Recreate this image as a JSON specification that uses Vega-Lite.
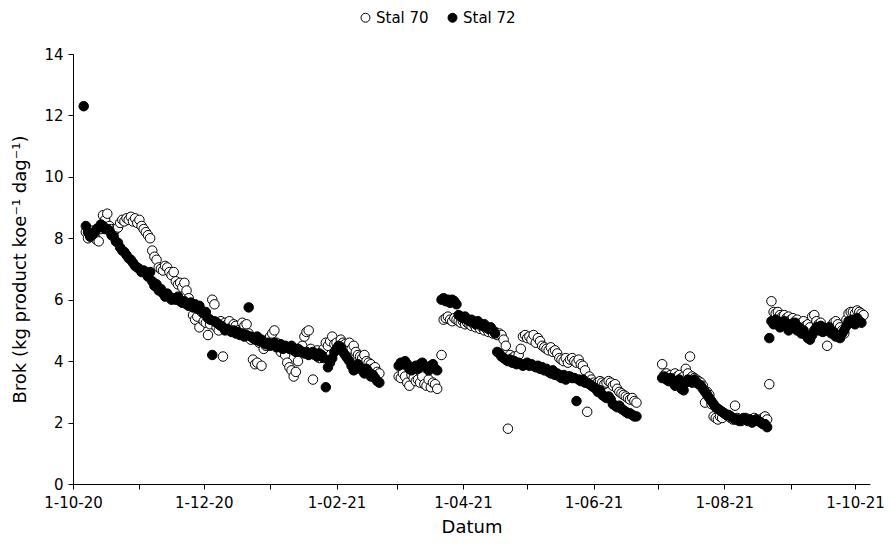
{
  "$schema": "https://vega.github.io/schema/vega-lite/v6.json",
  "width": 797,
  "height": 430,
  "autosize": {"type": "none"},
  "padding": {"left": 73, "top": 54, "right": 21, "bottom": 61},
  "background": "white",
  "config": {
    "view": {"stroke": null},
    "font": "DejaVu Sans",
    "axis": {
      "domainColor": "black",
      "tickColor": "black",
      "labelColor": "black",
      "titleColor": "black",
      "labelFont": "DejaVu Sans",
      "titleFont": "DejaVu Sans",
      "labelFontSize": 15,
      "titleFontSize": 18,
      "titleFontWeight": "normal",
      "grid": false,
      "tickSize": 5
    }
  },
  "data": {
    "values": [
      {"Datum": "2020-10-06", "Stal 72": 12.3},
      {"Datum": "2020-10-07", "Stal 70": 8.2, "Stal 72": 8.4},
      {"Datum": "2020-10-08", "Stal 70": 8.0, "Stal 72": 8.2},
      {"Datum": "2020-10-09", "Stal 70": 8.1, "Stal 72": 8.05},
      {"Datum": "2020-10-10", "Stal 70": 8.25, "Stal 72": 8.1},
      {"Datum": "2020-10-11", "Stal 70": 8.1, "Stal 72": 8.2},
      {"Datum": "2020-10-12", "Stal 70": 7.95, "Stal 72": 8.3},
      {"Datum": "2020-10-13", "Stal 70": 7.9, "Stal 72": 8.35},
      {"Datum": "2020-10-14", "Stal 70": 8.3, "Stal 72": 8.45},
      {"Datum": "2020-10-15", "Stal 70": 8.75, "Stal 72": 8.4},
      {"Datum": "2020-10-16", "Stal 70": 8.6, "Stal 72": 8.3},
      {"Datum": "2020-10-17", "Stal 70": 8.8, "Stal 72": 8.3},
      {"Datum": "2020-10-18", "Stal 70": 8.4, "Stal 72": 8.25},
      {"Datum": "2020-10-19", "Stal 70": 8.3, "Stal 72": 8.1},
      {"Datum": "2020-10-20", "Stal 70": 8.2, "Stal 72": 8.05},
      {"Datum": "2020-10-21", "Stal 70": 8.3, "Stal 72": 7.9},
      {"Datum": "2020-10-22", "Stal 70": 8.35, "Stal 72": 7.85},
      {"Datum": "2020-10-23", "Stal 70": 8.5, "Stal 72": 7.7},
      {"Datum": "2020-10-24", "Stal 70": 8.6, "Stal 72": 7.6},
      {"Datum": "2020-10-25", "Stal 70": 8.55, "Stal 72": 7.55},
      {"Datum": "2020-10-26", "Stal 70": 8.65, "Stal 72": 7.45},
      {"Datum": "2020-10-27", "Stal 70": 8.6, "Stal 72": 7.35},
      {"Datum": "2020-10-28", "Stal 70": 8.7, "Stal 72": 7.3},
      {"Datum": "2020-10-29", "Stal 70": 8.55, "Stal 72": 7.2},
      {"Datum": "2020-10-30", "Stal 70": 8.65, "Stal 72": 7.1},
      {"Datum": "2020-10-31", "Stal 70": 8.5, "Stal 72": 7.05},
      {"Datum": "2020-11-01", "Stal 70": 8.6, "Stal 72": 7.0},
      {"Datum": "2020-11-02", "Stal 70": 8.4, "Stal 72": 6.9},
      {"Datum": "2020-11-03", "Stal 70": 8.3, "Stal 72": 6.95},
      {"Datum": "2020-11-04", "Stal 70": 8.2, "Stal 72": 6.85},
      {"Datum": "2020-11-05", "Stal 70": 8.1, "Stal 72": 6.75},
      {"Datum": "2020-11-06", "Stal 70": 8.0, "Stal 72": 6.9},
      {"Datum": "2020-11-07", "Stal 70": 7.6, "Stal 72": 6.6},
      {"Datum": "2020-11-08", "Stal 70": 7.4, "Stal 72": 6.45},
      {"Datum": "2020-11-09", "Stal 70": 7.3, "Stal 72": 6.5},
      {"Datum": "2020-11-10", "Stal 70": 7.05, "Stal 72": 6.3},
      {"Datum": "2020-11-11", "Stal 70": 7.0, "Stal 72": 6.35},
      {"Datum": "2020-11-12", "Stal 70": 6.95, "Stal 72": 6.2},
      {"Datum": "2020-11-13", "Stal 70": 7.1, "Stal 72": 6.1},
      {"Datum": "2020-11-14", "Stal 70": 7.05, "Stal 72": 6.2},
      {"Datum": "2020-11-15", "Stal 70": 6.9, "Stal 72": 6.1},
      {"Datum": "2020-11-16", "Stal 70": 6.8, "Stal 72": 6.0},
      {"Datum": "2020-11-17", "Stal 70": 6.9, "Stal 72": 6.05},
      {"Datum": "2020-11-18", "Stal 70": 6.6, "Stal 72": 6.0},
      {"Datum": "2020-11-19", "Stal 70": 6.5, "Stal 72": 6.1},
      {"Datum": "2020-11-20", "Stal 70": 6.55, "Stal 72": 5.95},
      {"Datum": "2020-11-21", "Stal 70": 6.4, "Stal 72": 5.9},
      {"Datum": "2020-11-22", "Stal 70": 6.55, "Stal 72": 5.95},
      {"Datum": "2020-11-23", "Stal 70": 6.3, "Stal 72": 5.85},
      {"Datum": "2020-11-24", "Stal 70": 6.05, "Stal 72": 5.8},
      {"Datum": "2020-11-25", "Stal 70": 5.9, "Stal 72": 5.9},
      {"Datum": "2020-11-26", "Stal 70": 5.5, "Stal 72": 5.75},
      {"Datum": "2020-11-27", "Stal 70": 5.35, "Stal 72": 5.85},
      {"Datum": "2020-11-28", "Stal 70": 5.45, "Stal 72": 5.7},
      {"Datum": "2020-11-29", "Stal 70": 5.1, "Stal 72": 5.8},
      {"Datum": "2020-11-30", "Stal 70": 5.6, "Stal 72": 5.65},
      {"Datum": "2020-12-01", "Stal 70": 5.3, "Stal 72": 5.55},
      {"Datum": "2020-12-02", "Stal 70": 5.25, "Stal 72": 5.6},
      {"Datum": "2020-12-03", "Stal 70": 4.85, "Stal 72": 5.4},
      {"Datum": "2020-12-04", "Stal 70": 5.2, "Stal 72": 5.35},
      {"Datum": "2020-12-05", "Stal 70": 6.0, "Stal 72": 4.2},
      {"Datum": "2020-12-06", "Stal 70": 5.85, "Stal 72": 5.3},
      {"Datum": "2020-12-07", "Stal 70": 5.1, "Stal 72": 5.25},
      {"Datum": "2020-12-08", "Stal 70": 5.0, "Stal 72": 5.2},
      {"Datum": "2020-12-09", "Stal 70": 5.3, "Stal 72": 5.15},
      {"Datum": "2020-12-10", "Stal 70": 4.15, "Stal 72": 5.1},
      {"Datum": "2020-12-11", "Stal 70": 5.25, "Stal 72": 5.0},
      {"Datum": "2020-12-12", "Stal 70": 5.2, "Stal 72": 5.05},
      {"Datum": "2020-12-13", "Stal 70": 5.3, "Stal 72": 5.0},
      {"Datum": "2020-12-14", "Stal 70": 5.1, "Stal 72": 4.95},
      {"Datum": "2020-12-15", "Stal 70": 5.2, "Stal 72": 5.0},
      {"Datum": "2020-12-16", "Stal 70": 5.15, "Stal 72": 4.9},
      {"Datum": "2020-12-17", "Stal 70": 5.0, "Stal 72": 4.95},
      {"Datum": "2020-12-18", "Stal 70": 4.9, "Stal 72": 4.85},
      {"Datum": "2020-12-19", "Stal 70": 5.25, "Stal 72": 4.9},
      {"Datum": "2020-12-20", "Stal 70": 5.15, "Stal 72": 4.8},
      {"Datum": "2020-12-21", "Stal 70": 5.2, "Stal 72": 4.85},
      {"Datum": "2020-12-22", "Stal 70": 4.9, "Stal 72": 5.75},
      {"Datum": "2020-12-23", "Stal 70": 4.7, "Stal 72": 4.8},
      {"Datum": "2020-12-24", "Stal 70": 4.05, "Stal 72": 4.75},
      {"Datum": "2020-12-25", "Stal 70": 3.9, "Stal 72": 4.7},
      {"Datum": "2020-12-26", "Stal 70": 3.95, "Stal 72": 4.8},
      {"Datum": "2020-12-27", "Stal 70": 4.6, "Stal 72": 4.65},
      {"Datum": "2020-12-28", "Stal 70": 3.85, "Stal 72": 4.7},
      {"Datum": "2020-12-29", "Stal 70": 4.4, "Stal 72": 4.6},
      {"Datum": "2020-12-30", "Stal 70": 4.5, "Stal 72": 4.55},
      {"Datum": "2020-12-31", "Stal 70": 4.7, "Stal 72": 4.6},
      {"Datum": "2021-01-01", "Stal 70": 4.8, "Stal 72": 4.5},
      {"Datum": "2021-01-02", "Stal 70": 4.9, "Stal 72": 4.55},
      {"Datum": "2021-01-03", "Stal 70": 5.0, "Stal 72": 4.6},
      {"Datum": "2021-01-04", "Stal 70": 4.6, "Stal 72": 4.45},
      {"Datum": "2021-01-05", "Stal 70": 4.5, "Stal 72": 4.5},
      {"Datum": "2021-01-06", "Stal 70": 4.3, "Stal 72": 4.55},
      {"Datum": "2021-01-07", "Stal 70": 4.4, "Stal 72": 4.4},
      {"Datum": "2021-01-08", "Stal 70": 4.2, "Stal 72": 4.5},
      {"Datum": "2021-01-09", "Stal 70": 3.95, "Stal 72": 4.45},
      {"Datum": "2021-01-10", "Stal 70": 3.8, "Stal 72": 4.4},
      {"Datum": "2021-01-11", "Stal 70": 3.7, "Stal 72": 4.5},
      {"Datum": "2021-01-12", "Stal 70": 3.5, "Stal 72": 4.35},
      {"Datum": "2021-01-13", "Stal 70": 3.65, "Stal 72": 4.3},
      {"Datum": "2021-01-14", "Stal 70": 4.0, "Stal 72": 4.4},
      {"Datum": "2021-01-15", "Stal 70": 4.3, "Stal 72": 4.35},
      {"Datum": "2021-01-16", "Stal 70": 4.5, "Stal 72": 4.3},
      {"Datum": "2021-01-17", "Stal 70": 4.8, "Stal 72": 4.25},
      {"Datum": "2021-01-18", "Stal 70": 4.95, "Stal 72": 4.3},
      {"Datum": "2021-01-19", "Stal 70": 5.0, "Stal 72": 4.2},
      {"Datum": "2021-01-20", "Stal 70": 4.4, "Stal 72": 4.25},
      {"Datum": "2021-01-21", "Stal 70": 3.4, "Stal 72": 4.3},
      {"Datum": "2021-01-22", "Stal 70": 4.2, "Stal 72": 4.2},
      {"Datum": "2021-01-23", "Stal 70": 4.35, "Stal 72": 4.15},
      {"Datum": "2021-01-24", "Stal 70": 4.1, "Stal 72": 4.25},
      {"Datum": "2021-01-25", "Stal 70": 4.3, "Stal 72": 4.2},
      {"Datum": "2021-01-26", "Stal 70": 4.4, "Stal 72": 4.1},
      {"Datum": "2021-01-27", "Stal 70": 4.6, "Stal 72": 3.15},
      {"Datum": "2021-01-28", "Stal 70": 4.5, "Stal 72": 3.8},
      {"Datum": "2021-01-29", "Stal 70": 4.65, "Stal 72": 3.95},
      {"Datum": "2021-01-30", "Stal 70": 4.8, "Stal 72": 4.1},
      {"Datum": "2021-01-31", "Stal 70": 4.55, "Stal 72": 4.3},
      {"Datum": "2021-02-01", "Stal 70": 4.6, "Stal 72": 4.4},
      {"Datum": "2021-02-02", "Stal 70": 4.5, "Stal 72": 4.5},
      {"Datum": "2021-02-03", "Stal 70": 4.7, "Stal 72": 4.45},
      {"Datum": "2021-02-04", "Stal 70": 4.6, "Stal 72": 4.3},
      {"Datum": "2021-02-05", "Stal 70": 4.55, "Stal 72": 4.2},
      {"Datum": "2021-02-06", "Stal 70": 4.5, "Stal 72": 4.1},
      {"Datum": "2021-02-07", "Stal 70": 4.6, "Stal 72": 4.0},
      {"Datum": "2021-02-08", "Stal 70": 4.4, "Stal 72": 3.85},
      {"Datum": "2021-02-09", "Stal 70": 4.5, "Stal 72": 3.7},
      {"Datum": "2021-02-10", "Stal 70": 4.3, "Stal 72": 3.75},
      {"Datum": "2021-02-11", "Stal 70": 4.2, "Stal 72": 3.9},
      {"Datum": "2021-02-12", "Stal 70": 4.15, "Stal 72": 3.8},
      {"Datum": "2021-02-13", "Stal 70": 4.1, "Stal 72": 3.7},
      {"Datum": "2021-02-14", "Stal 70": 4.2, "Stal 72": 3.6},
      {"Datum": "2021-02-15", "Stal 70": 4.0, "Stal 72": 3.75},
      {"Datum": "2021-02-16", "Stal 70": 3.95, "Stal 72": 3.65},
      {"Datum": "2021-02-17", "Stal 70": 3.9, "Stal 72": 3.5},
      {"Datum": "2021-02-18", "Stal 70": 3.75, "Stal 72": 3.55},
      {"Datum": "2021-02-19", "Stal 70": 3.8, "Stal 72": 3.45},
      {"Datum": "2021-02-20", "Stal 70": 3.65, "Stal 72": 3.35},
      {"Datum": "2021-02-21", "Stal 70": 3.6, "Stal 72": 3.3},
      {"Datum": "2021-03-02", "Stal 70": 3.5, "Stal 72": 3.85},
      {"Datum": "2021-03-03", "Stal 70": 3.45, "Stal 72": 3.95},
      {"Datum": "2021-03-04", "Stal 70": 3.6, "Stal 72": 3.9},
      {"Datum": "2021-03-05", "Stal 70": 3.5, "Stal 72": 4.0},
      {"Datum": "2021-03-06", "Stal 70": 3.3, "Stal 72": 3.9},
      {"Datum": "2021-03-07", "Stal 70": 3.2, "Stal 72": 3.75},
      {"Datum": "2021-03-08", "Stal 70": 3.55, "Stal 72": 3.7},
      {"Datum": "2021-03-09", "Stal 70": 3.45, "Stal 72": 3.8},
      {"Datum": "2021-03-10", "Stal 70": 3.35, "Stal 72": 3.85},
      {"Datum": "2021-03-11", "Stal 70": 3.4, "Stal 72": 3.75},
      {"Datum": "2021-03-12", "Stal 70": 3.3, "Stal 72": 3.9},
      {"Datum": "2021-03-13", "Stal 70": 3.5, "Stal 72": 3.95},
      {"Datum": "2021-03-14", "Stal 70": 3.25, "Stal 72": 3.85},
      {"Datum": "2021-03-15", "Stal 70": 3.2, "Stal 72": 3.8},
      {"Datum": "2021-03-16", "Stal 70": 3.4, "Stal 72": 3.7},
      {"Datum": "2021-03-17", "Stal 70": 3.15, "Stal 72": 3.85},
      {"Datum": "2021-03-18", "Stal 70": 3.3, "Stal 72": 3.9},
      {"Datum": "2021-03-19", "Stal 70": 3.25, "Stal 72": 3.75},
      {"Datum": "2021-03-20", "Stal 70": 3.1, "Stal 72": 3.7},
      {"Datum": "2021-03-22", "Stal 70": 4.2, "Stal 72": 6.0},
      {"Datum": "2021-03-23", "Stal 70": 5.35, "Stal 72": 6.05},
      {"Datum": "2021-03-24", "Stal 70": 5.4, "Stal 72": 5.95},
      {"Datum": "2021-03-25", "Stal 70": 5.45, "Stal 72": 6.0},
      {"Datum": "2021-03-26", "Stal 70": 5.35, "Stal 72": 5.9},
      {"Datum": "2021-03-27", "Stal 70": 5.3, "Stal 72": 6.0},
      {"Datum": "2021-03-28", "Stal 70": 5.4, "Stal 72": 5.95},
      {"Datum": "2021-03-29", "Stal 70": 5.35, "Stal 72": 5.85},
      {"Datum": "2021-03-30", "Stal 70": 5.3, "Stal 72": 5.5},
      {"Datum": "2021-03-31", "Stal 70": 5.25, "Stal 72": 5.45},
      {"Datum": "2021-04-01", "Stal 70": 5.3, "Stal 72": 5.4},
      {"Datum": "2021-04-02", "Stal 70": 5.2, "Stal 72": 5.45},
      {"Datum": "2021-04-03", "Stal 70": 5.25, "Stal 72": 5.35},
      {"Datum": "2021-04-04", "Stal 70": 5.2, "Stal 72": 5.3},
      {"Datum": "2021-04-05", "Stal 70": 5.15, "Stal 72": 5.35},
      {"Datum": "2021-04-06", "Stal 70": 5.2, "Stal 72": 5.25},
      {"Datum": "2021-04-07", "Stal 70": 5.1, "Stal 72": 5.2},
      {"Datum": "2021-04-08", "Stal 70": 5.15, "Stal 72": 5.3},
      {"Datum": "2021-04-09", "Stal 70": 5.05, "Stal 72": 5.2},
      {"Datum": "2021-04-10", "Stal 70": 5.1, "Stal 72": 5.15},
      {"Datum": "2021-04-11", "Stal 70": 5.0, "Stal 72": 5.2},
      {"Datum": "2021-04-12", "Stal 70": 5.05, "Stal 72": 5.1},
      {"Datum": "2021-04-13", "Stal 70": 4.95, "Stal 72": 5.05},
      {"Datum": "2021-04-14", "Stal 70": 5.0, "Stal 72": 5.1},
      {"Datum": "2021-04-15", "Stal 70": 4.9, "Stal 72": 5.0},
      {"Datum": "2021-04-16", "Stal 70": 4.95, "Stal 72": 4.9},
      {"Datum": "2021-04-17", "Stal 70": 4.85, "Stal 72": 4.3},
      {"Datum": "2021-04-18", "Stal 70": 4.9, "Stal 72": 4.25},
      {"Datum": "2021-04-19", "Stal 70": 4.85, "Stal 72": 4.15},
      {"Datum": "2021-04-20", "Stal 70": 4.7, "Stal 72": 4.1},
      {"Datum": "2021-04-21", "Stal 70": 4.5, "Stal 72": 4.05},
      {"Datum": "2021-04-22", "Stal 70": 1.8, "Stal 72": 4.0},
      {"Datum": "2021-04-23", "Stal 70": 4.2, "Stal 72": 4.05},
      {"Datum": "2021-04-24", "Stal 70": 4.1, "Stal 72": 3.95},
      {"Datum": "2021-04-25", "Stal 70": 4.15, "Stal 72": 4.0},
      {"Datum": "2021-04-26", "Stal 70": 4.05, "Stal 72": 3.9},
      {"Datum": "2021-04-27", "Stal 70": 4.2, "Stal 72": 3.95},
      {"Datum": "2021-04-28", "Stal 70": 4.4, "Stal 72": 3.9},
      {"Datum": "2021-04-29", "Stal 70": 4.8, "Stal 72": 3.85},
      {"Datum": "2021-04-30", "Stal 70": 4.85, "Stal 72": 3.9},
      {"Datum": "2021-05-01", "Stal 70": 4.75, "Stal 72": 3.95},
      {"Datum": "2021-05-02", "Stal 70": 4.8, "Stal 72": 3.85},
      {"Datum": "2021-05-03", "Stal 70": 4.7, "Stal 72": 3.9},
      {"Datum": "2021-05-04", "Stal 70": 4.85, "Stal 72": 3.85},
      {"Datum": "2021-05-05", "Stal 70": 4.6, "Stal 72": 3.8},
      {"Datum": "2021-05-06", "Stal 70": 4.75, "Stal 72": 3.85},
      {"Datum": "2021-05-07", "Stal 70": 4.65, "Stal 72": 3.75},
      {"Datum": "2021-05-08", "Stal 70": 4.5, "Stal 72": 3.8},
      {"Datum": "2021-05-09", "Stal 70": 4.45, "Stal 72": 3.7},
      {"Datum": "2021-05-10", "Stal 70": 4.4, "Stal 72": 3.75},
      {"Datum": "2021-05-11", "Stal 70": 4.35, "Stal 72": 3.65},
      {"Datum": "2021-05-12", "Stal 70": 4.45, "Stal 72": 3.6},
      {"Datum": "2021-05-13", "Stal 70": 4.3, "Stal 72": 3.7},
      {"Datum": "2021-05-14", "Stal 70": 4.35, "Stal 72": 3.55},
      {"Datum": "2021-05-15", "Stal 70": 4.25, "Stal 72": 3.6},
      {"Datum": "2021-05-16", "Stal 70": 4.1, "Stal 72": 3.5},
      {"Datum": "2021-05-17", "Stal 70": 4.05, "Stal 72": 3.45},
      {"Datum": "2021-05-18", "Stal 70": 4.0, "Stal 72": 3.55},
      {"Datum": "2021-05-19", "Stal 70": 4.1, "Stal 72": 3.4},
      {"Datum": "2021-05-20", "Stal 70": 3.95, "Stal 72": 3.5},
      {"Datum": "2021-05-21", "Stal 70": 4.05, "Stal 72": 3.5},
      {"Datum": "2021-05-22", "Stal 70": 4.1, "Stal 72": 3.45},
      {"Datum": "2021-05-23", "Stal 70": 4.0, "Stal 72": 3.45},
      {"Datum": "2021-05-24", "Stal 70": 3.95, "Stal 72": 2.7},
      {"Datum": "2021-05-25", "Stal 70": 4.05, "Stal 72": 3.4},
      {"Datum": "2021-05-26", "Stal 70": 3.9, "Stal 72": 3.35},
      {"Datum": "2021-05-27", "Stal 70": 3.85, "Stal 72": 3.4},
      {"Datum": "2021-05-28", "Stal 70": 3.7, "Stal 72": 3.3},
      {"Datum": "2021-05-29", "Stal 70": 2.35, "Stal 72": 3.3},
      {"Datum": "2021-05-30", "Stal 70": 3.5, "Stal 72": 3.25},
      {"Datum": "2021-05-31", "Stal 70": 3.4, "Stal 72": 3.2},
      {"Datum": "2021-06-01", "Stal 70": 3.3, "Stal 72": 3.15},
      {"Datum": "2021-06-02", "Stal 70": 3.25, "Stal 72": 3.1},
      {"Datum": "2021-06-03", "Stal 70": 3.3, "Stal 72": 3.0},
      {"Datum": "2021-06-04", "Stal 70": 3.35, "Stal 72": 3.05},
      {"Datum": "2021-06-05", "Stal 70": 3.3, "Stal 72": 2.9},
      {"Datum": "2021-06-06", "Stal 70": 3.25, "Stal 72": 2.85},
      {"Datum": "2021-06-07", "Stal 70": 3.3, "Stal 72": 2.8},
      {"Datum": "2021-06-08", "Stal 70": 3.35, "Stal 72": 2.85},
      {"Datum": "2021-06-09", "Stal 70": 3.3, "Stal 72": 2.75},
      {"Datum": "2021-06-10", "Stal 70": 3.2, "Stal 72": 2.6},
      {"Datum": "2021-06-11", "Stal 70": 3.25, "Stal 72": 2.55},
      {"Datum": "2021-06-12", "Stal 70": 3.1, "Stal 72": 2.5},
      {"Datum": "2021-06-13", "Stal 70": 3.0, "Stal 72": 2.55},
      {"Datum": "2021-06-14", "Stal 70": 2.95, "Stal 72": 2.45},
      {"Datum": "2021-06-15", "Stal 70": 2.9, "Stal 72": 2.4},
      {"Datum": "2021-06-16", "Stal 70": 2.85, "Stal 72": 2.35},
      {"Datum": "2021-06-17", "Stal 70": 2.8, "Stal 72": 2.3},
      {"Datum": "2021-06-18", "Stal 70": 2.75, "Stal 72": 2.3},
      {"Datum": "2021-06-19", "Stal 70": 2.8, "Stal 72": 2.25},
      {"Datum": "2021-06-20", "Stal 70": 2.7, "Stal 72": 2.2},
      {"Datum": "2021-06-21", "Stal 70": 2.65, "Stal 72": 2.2},
      {"Datum": "2021-07-03", "Stal 70": 3.9, "Stal 72": 3.45},
      {"Datum": "2021-07-04", "Stal 70": 3.55, "Stal 72": 3.5},
      {"Datum": "2021-07-05", "Stal 70": 3.6, "Stal 72": 3.4},
      {"Datum": "2021-07-06", "Stal 70": 3.5, "Stal 72": 3.35},
      {"Datum": "2021-07-07", "Stal 70": 3.55, "Stal 72": 3.45},
      {"Datum": "2021-07-08", "Stal 70": 3.45, "Stal 72": 3.3},
      {"Datum": "2021-07-09", "Stal 70": 3.6, "Stal 72": 3.2},
      {"Datum": "2021-07-10", "Stal 70": 3.5, "Stal 72": 3.35},
      {"Datum": "2021-07-11", "Stal 70": 3.55, "Stal 72": 3.4},
      {"Datum": "2021-07-12", "Stal 70": 3.45, "Stal 72": 3.1},
      {"Datum": "2021-07-13", "Stal 70": 3.5, "Stal 72": 3.05},
      {"Datum": "2021-07-14", "Stal 70": 3.75, "Stal 72": 3.3},
      {"Datum": "2021-07-15", "Stal 70": 3.6, "Stal 72": 3.4},
      {"Datum": "2021-07-16", "Stal 70": 4.15, "Stal 72": 3.35},
      {"Datum": "2021-07-17", "Stal 70": 3.5, "Stal 72": 3.3},
      {"Datum": "2021-07-18", "Stal 70": 3.45, "Stal 72": 3.4},
      {"Datum": "2021-07-19", "Stal 70": 3.4, "Stal 72": 3.3},
      {"Datum": "2021-07-20", "Stal 70": 3.35, "Stal 72": 3.25},
      {"Datum": "2021-07-21", "Stal 70": 3.3, "Stal 72": 3.2},
      {"Datum": "2021-07-22", "Stal 70": 3.2, "Stal 72": 3.1},
      {"Datum": "2021-07-23", "Stal 70": 2.65, "Stal 72": 3.0},
      {"Datum": "2021-07-24", "Stal 70": 3.0, "Stal 72": 2.9},
      {"Datum": "2021-07-25", "Stal 70": 2.9, "Stal 72": 2.8},
      {"Datum": "2021-07-26", "Stal 70": 2.6, "Stal 72": 2.7},
      {"Datum": "2021-07-27", "Stal 70": 2.2, "Stal 72": 2.6},
      {"Datum": "2021-07-28", "Stal 70": 2.15, "Stal 72": 2.5},
      {"Datum": "2021-07-29", "Stal 70": 2.1, "Stal 72": 2.45},
      {"Datum": "2021-07-30", "Stal 70": 2.2, "Stal 72": 2.4},
      {"Datum": "2021-07-31", "Stal 70": 2.15, "Stal 72": 2.35},
      {"Datum": "2021-08-01", "Stal 70": 2.3, "Stal 72": 2.3},
      {"Datum": "2021-08-02", "Stal 70": 2.25, "Stal 72": 2.25},
      {"Datum": "2021-08-03", "Stal 70": 2.2, "Stal 72": 2.25},
      {"Datum": "2021-08-04", "Stal 70": 2.15, "Stal 72": 2.2},
      {"Datum": "2021-08-05", "Stal 70": 2.1, "Stal 72": 2.15},
      {"Datum": "2021-08-06", "Stal 70": 2.55, "Stal 72": 2.1},
      {"Datum": "2021-08-07", "Stal 70": 2.15, "Stal 72": 2.1},
      {"Datum": "2021-08-08", "Stal 70": 2.1, "Stal 72": 2.05},
      {"Datum": "2021-08-09", "Stal 70": 2.05, "Stal 72": 2.1},
      {"Datum": "2021-08-10", "Stal 70": 2.1, "Stal 72": 2.15},
      {"Datum": "2021-08-11", "Stal 70": 2.15, "Stal 72": 2.1},
      {"Datum": "2021-08-12", "Stal 70": 2.1, "Stal 72": 2.05},
      {"Datum": "2021-08-13", "Stal 70": 2.05, "Stal 72": 2.1},
      {"Datum": "2021-08-14", "Stal 70": 2.1, "Stal 72": 2.0},
      {"Datum": "2021-08-15", "Stal 70": 2.15, "Stal 72": 2.05},
      {"Datum": "2021-08-16", "Stal 70": 2.1, "Stal 72": 2.1},
      {"Datum": "2021-08-17", "Stal 70": 2.05, "Stal 72": 2.05},
      {"Datum": "2021-08-18", "Stal 70": 2.1, "Stal 72": 2.0},
      {"Datum": "2021-08-19", "Stal 70": 2.15, "Stal 72": 1.95},
      {"Datum": "2021-08-20", "Stal 70": 2.2, "Stal 72": 1.95},
      {"Datum": "2021-08-21", "Stal 70": 2.1, "Stal 72": 1.85},
      {"Datum": "2021-08-22", "Stal 70": 3.25, "Stal 72": 4.75},
      {"Datum": "2021-08-23", "Stal 70": 5.95, "Stal 72": 5.3},
      {"Datum": "2021-08-24", "Stal 70": 5.6, "Stal 72": 5.2},
      {"Datum": "2021-08-25", "Stal 70": 5.55, "Stal 72": 5.35},
      {"Datum": "2021-08-26", "Stal 70": 5.6, "Stal 72": 5.25},
      {"Datum": "2021-08-27", "Stal 70": 5.5, "Stal 72": 5.1},
      {"Datum": "2021-08-28", "Stal 70": 5.45, "Stal 72": 5.2},
      {"Datum": "2021-08-29", "Stal 70": 5.5, "Stal 72": 5.3},
      {"Datum": "2021-08-30", "Stal 70": 5.4, "Stal 72": 5.15},
      {"Datum": "2021-08-31", "Stal 70": 5.45, "Stal 72": 5.0},
      {"Datum": "2021-09-01", "Stal 70": 5.35, "Stal 72": 5.2},
      {"Datum": "2021-09-02", "Stal 70": 5.4, "Stal 72": 5.1},
      {"Datum": "2021-09-03", "Stal 70": 5.3, "Stal 72": 5.25},
      {"Datum": "2021-09-04", "Stal 70": 5.35, "Stal 72": 5.0},
      {"Datum": "2021-09-05", "Stal 70": 5.2, "Stal 72": 5.1},
      {"Datum": "2021-09-06", "Stal 70": 5.25, "Stal 72": 4.9},
      {"Datum": "2021-09-07", "Stal 70": 5.3, "Stal 72": 5.0},
      {"Datum": "2021-09-08", "Stal 70": 5.15, "Stal 72": 4.85},
      {"Datum": "2021-09-09", "Stal 70": 5.2, "Stal 72": 4.75},
      {"Datum": "2021-09-10", "Stal 70": 5.1, "Stal 72": 4.7},
      {"Datum": "2021-09-11", "Stal 70": 5.45, "Stal 72": 4.85},
      {"Datum": "2021-09-12", "Stal 70": 5.5, "Stal 72": 5.0},
      {"Datum": "2021-09-13", "Stal 70": 5.3, "Stal 72": 5.1},
      {"Datum": "2021-09-14", "Stal 70": 5.2, "Stal 72": 5.0},
      {"Datum": "2021-09-15", "Stal 70": 5.25, "Stal 72": 5.15},
      {"Datum": "2021-09-16", "Stal 70": 5.1, "Stal 72": 4.95},
      {"Datum": "2021-09-17", "Stal 70": 5.0, "Stal 72": 5.05},
      {"Datum": "2021-09-18", "Stal 70": 4.5, "Stal 72": 5.0},
      {"Datum": "2021-09-19", "Stal 70": 5.05, "Stal 72": 5.1},
      {"Datum": "2021-09-20", "Stal 70": 5.15, "Stal 72": 4.9},
      {"Datum": "2021-09-21", "Stal 70": 5.25, "Stal 72": 4.95},
      {"Datum": "2021-09-22", "Stal 70": 5.3, "Stal 72": 4.8},
      {"Datum": "2021-09-23", "Stal 70": 5.2, "Stal 72": 4.85},
      {"Datum": "2021-09-24", "Stal 70": 5.1, "Stal 72": 4.75},
      {"Datum": "2021-09-25", "Stal 70": 5.0, "Stal 72": 4.9},
      {"Datum": "2021-09-26", "Stal 70": 4.9, "Stal 72": 5.0},
      {"Datum": "2021-09-27", "Stal 70": 5.35, "Stal 72": 5.15},
      {"Datum": "2021-09-28", "Stal 70": 5.55, "Stal 72": 5.3},
      {"Datum": "2021-09-29", "Stal 70": 5.6, "Stal 72": 5.25},
      {"Datum": "2021-09-30", "Stal 70": 5.6, "Stal 72": 5.35},
      {"Datum": "2021-10-01", "Stal 70": 5.55, "Stal 72": 5.2},
      {"Datum": "2021-10-02", "Stal 70": 5.65, "Stal 72": 5.4},
      {"Datum": "2021-10-03", "Stal 70": 5.6, "Stal 72": 5.3},
      {"Datum": "2021-10-04", "Stal 70": 5.55, "Stal 72": 5.25},
      {"Datum": "2021-10-05", "Stal 70": 5.5}
    ]
  },
  "transform": [{"fold": ["Stal 70", "Stal 72"], "as": ["Stal", "Brok"]}],
  "mark": {"type": "point", "filled": true, "size": 90, "stroke": "black", "strokeWidth": 1, "opacity": 1},
  "encoding": {
    "x": {
      "field": "Datum",
      "type": "temporal",
      "scale": {
        "type": "utc",
        "domain": [
          {"year": 2020, "month": 10, "date": 1, "utc": true},
          {"year": 2021, "month": 10, "date": 8, "utc": true}
        ]
      },
      "axis": {
        "title": "Datum",
        "values": [
          {"year": 2020, "month": 10, "date": 1, "utc": true},
          {"year": 2020, "month": 11, "date": 1, "utc": true},
          {"year": 2020, "month": 12, "date": 1, "utc": true},
          {"year": 2021, "month": 1, "date": 1, "utc": true},
          {"year": 2021, "month": 2, "date": 1, "utc": true},
          {"year": 2021, "month": 3, "date": 1, "utc": true},
          {"year": 2021, "month": 4, "date": 1, "utc": true},
          {"year": 2021, "month": 5, "date": 1, "utc": true},
          {"year": 2021, "month": 6, "date": 1, "utc": true},
          {"year": 2021, "month": 7, "date": 1, "utc": true},
          {"year": 2021, "month": 8, "date": 1, "utc": true},
          {"year": 2021, "month": 9, "date": 1, "utc": true},
          {"year": 2021, "month": 10, "date": 1, "utc": true}
        ],
        "labelExpr": "utcmonth(datum.value) % 2 == 1 ? utcFormat(datum.value, '%-d-%m-%y') : ''",
        "labelOverlap": false,
        "labelFlush": false,
        "labelBound": false,
        "labelPadding": 6,
        "titlePadding": 8
      }
    },
    "y": {
      "field": "Brok",
      "type": "quantitative",
      "scale": {"domain": [0, 14], "nice": false, "zero": true},
      "axis": {
        "title": "Brok (kg product koe⁻¹ dag⁻¹)",
        "values": [0, 2, 4, 6, 8, 10, 12, 14],
        "labelPadding": 5,
        "titlePadding": 14
      }
    },
    "fill": {
      "field": "Stal",
      "type": "nominal",
      "scale": {"domain": ["Stal 70", "Stal 72"], "range": ["white", "black"]},
      "legend": {
        "title": null,
        "orient": "none",
        "direction": "horizontal",
        "legendX": 285,
        "legendY": -44,
        "symbolType": "circle",
        "symbolSize": 80,
        "symbolStrokeColor": "black",
        "symbolStrokeWidth": 1,
        "labelFontSize": 15,
        "labelColor": "black",
        "labelFont": "DejaVu Sans",
        "labelOffset": 3,
        "columnPadding": 16
      }
    },
    "order": {"field": "Stal", "sort": "ascending"}
  }
}
